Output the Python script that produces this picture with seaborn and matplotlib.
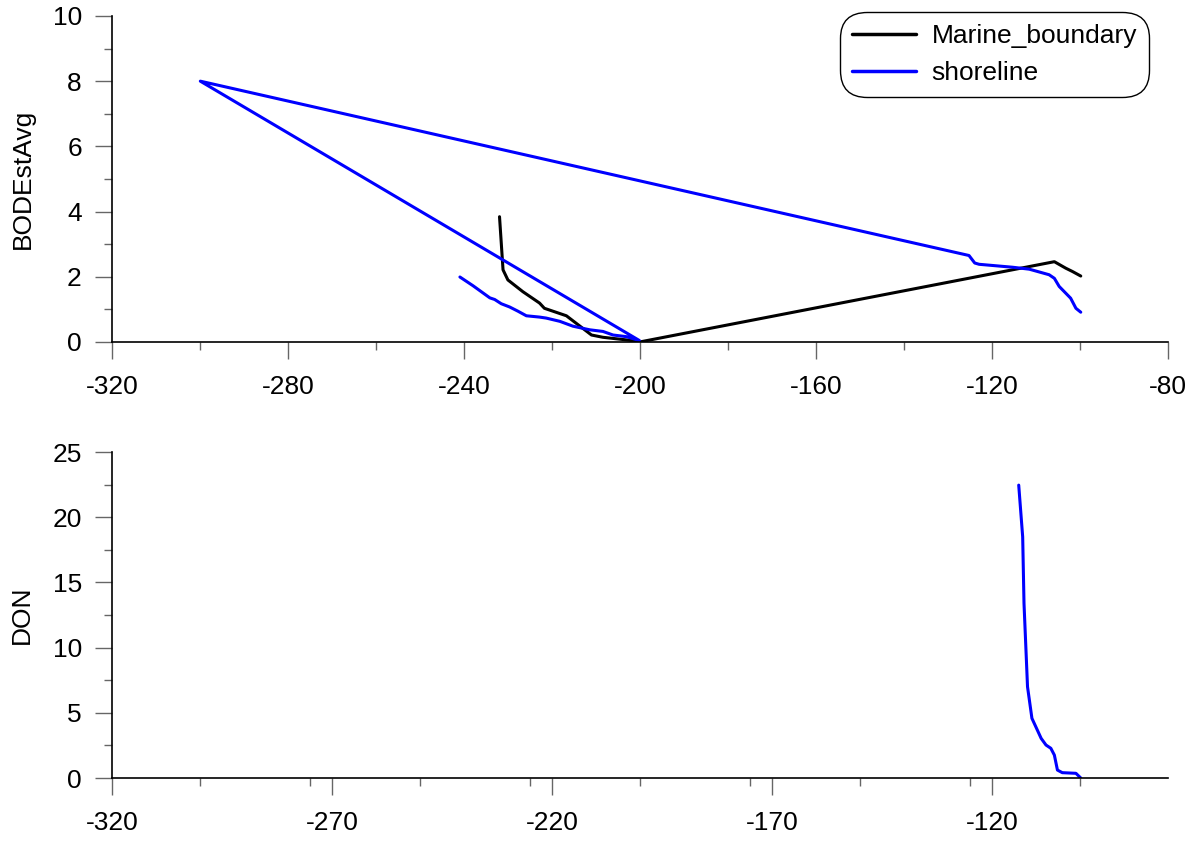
import matplotlib
matplotlib.use("Agg")
import matplotlib.pyplot as plt
from matplotlib.ticker import MultipleLocator
import seaborn as sns
import pandas as pd

# ---- data ----
marine_x = [-232.0, -231.2, -230.1, -226.7, -222.9, -221.8, -216.8, -213.8, -211.1,
            -208.5, -203.2, -200.2, -200.0, -105.9, -103.3, -101.8, -99.9]
marine_bod = [3.84, 2.21, 1.90, 1.54, 1.19, 1.03, 0.80, 0.49, 0.21,
              0.14, 0.06, 0.01, 0.0, 2.46, 2.26, 2.16, 2.02]

shore_x = [-241.0, -238.0, -234.2, -233.1, -231.6, -229.7, -227.8, -225.9, -222.9,
           -221.4, -218.3, -215.3, -211.5, -208.5, -206.2, -203.2, -200.2,
           -300.0, -125.3, -124.0, -123.0, -115.4, -111.6, -107.1, -105.9,
           -104.8, -102.2, -101.0, -99.9]
shore_bod = [1.99, 1.72, 1.35, 1.30, 1.17, 1.07, 0.94, 0.80, 0.76,
             0.73, 0.63, 0.48, 0.37, 0.32, 0.21, 0.16, 0.04,
             8.0, 2.65, 2.42, 2.38, 2.29, 2.23, 2.06, 1.95,
             1.70, 1.34, 1.03, 0.91]

don_x = [-114.0, -113.1, -112.8, -112.0, -111.0, -108.9, -107.8, -106.7, -105.9,
         -105.2, -104.1, -101.0, -99.9]
don_val = [22.47, 18.5, 13.4, 7.0, 4.58, 3.04, 2.53, 2.28, 1.76,
           0.61, 0.41, 0.36, 0.0]

series_names = ["Marine_boundary", "shoreline"]
series_colors = ["#000000", "#0000ff"]

top_df = pd.concat([
    pd.DataFrame({"x": marine_x, "y": marine_bod, "series": series_names[0]}),
    pd.DataFrame({"x": shore_x, "y": shore_bod, "series": series_names[1]}),
], ignore_index=True)
bot_df = pd.DataFrame({"x": don_x, "y": don_val, "series": series_names[1]})

# ---- style ----
sns.set_style("ticks")
plt.rcParams["font.family"] = ["Liberation Sans", "DejaVu Sans"]
plt.rcParams["axes.unicode_minus"] = False
plt.rcParams["text.color"] = "black"
plt.rcParams["axes.labelcolor"] = "black"
plt.rcParams["xtick.color"] = "black"
plt.rcParams["ytick.color"] = "black"
FS = 19
LW = 2.2

fig = plt.figure(figsize=(12, 8.42), dpi=100)
ax1 = fig.add_axes([0.0936, 0.594, 0.880, 0.387])
ax2 = fig.add_axes([0.0936, 0.076, 0.880, 0.387])

pal = dict(zip(series_names, series_colors))
sns.lineplot(data=top_df, x="x", y="y", hue="series", palette=pal, sort=False,
             estimator=None, units="series", lw=LW, ax=ax1)
sns.lineplot(data=bot_df, x="x", y="y", hue="series", palette=pal, sort=False,
             estimator=None, lw=LW, ax=ax2, legend=False)

def style(ax, xmaj, xmin, ymaj, ymin, ylim, ylabel):
    ax.set_xlim(-320, -80)
    ax.set_ylim(*ylim)
    ax.xaxis.set_major_locator(MultipleLocator(xmaj))
    ax.xaxis.set_minor_locator(MultipleLocator(xmin))
    ax.yaxis.set_major_locator(MultipleLocator(ymaj))
    ax.yaxis.set_minor_locator(MultipleLocator(ymin))
    for s in ["top", "right"]:
        ax.spines[s].set_visible(False)
    for s in ["left", "bottom"]:
        ax.spines[s].set_color("black")
        ax.spines[s].set_linewidth(1.2)
    ax.tick_params(which="major", length=12, width=1.0, color="#666666",
                   labelsize=FS, labelcolor="black", direction="out")
    ax.tick_params(which="minor", length=6, width=1.0, color="#666666",
                   direction="out")
    ax.tick_params(axis="x", which="major", pad=12)
    ax.tick_params(axis="y", which="major", pad=10)
    ax.set_xlabel("")
    ax.set_ylabel(ylabel, fontsize=FS, labelpad=13, color="black")
    ax.set_facecolor("white")

style(ax1, 40, 20, 2, 1, (0, 10), "BODEstAvg")
style(ax2, 50, 25, 5, 2.5, (0, 25), "DON")
ax2.set_xticks([-320, -270, -220, -170, -120])

leg = ax1.legend(loc="upper right", bbox_to_anchor=(0.994, 1.053), fontsize=FS,
                 frameon=True, fancybox=True, handlelength=2.4, borderpad=0.45,
                 labelspacing=0.5, handletextpad=0.6, framealpha=1)
leg.get_frame().set_edgecolor("black")
leg.get_frame().set_linewidth(1.0)
leg.get_frame().set_boxstyle("round", pad=0.0, rounding_size=1.0)
for line in leg.get_lines():
    line.set_linewidth(LW + 0.3)
for t in leg.get_texts():
    t.set_color("black")

fig.savefig("out.png", dpi=100, facecolor="white")
